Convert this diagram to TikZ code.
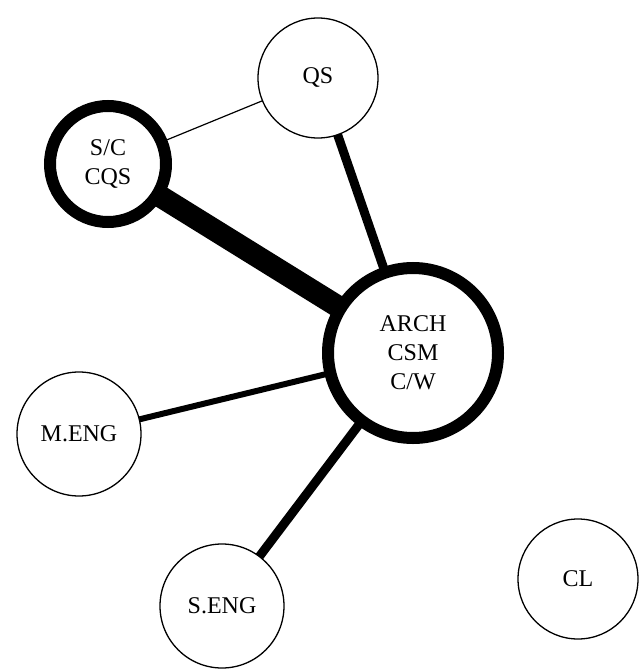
\documentclass[tikz,border=0pt]{standalone}
\usepackage{fontspec}
\setmainfont{Liberation Serif}
\usetikzlibrary{backgrounds}
\begin{document}
\begin{tikzpicture}[x=1pt,y=-1pt,
  unit/.style={circle, draw, fill=white, line width=1.3pt, inner sep=0pt,
    align=center, font=\fontsize{24}{29}\selectfont},
  core/.style={unit, line width=12pt},
  link/.style={line cap=butt}]
\useasboundingbox (0,0) rectangle (639,671);
% groups
\node[unit, minimum size=120pt] (qs)   at (318,78)  {QS};
\node[core, minimum size=116pt] (sc)   at (108,164) {S/C\\CQS};
\node[core, minimum size=170pt] (arch) at (413,353) {ARCH\\CSM\\C/W};
\node[unit, minimum size=124pt] (meng) at (79,434)  {M.ENG};
\node[unit, minimum size=124pt] (seng) at (222,606) {S.ENG};
\node[unit, minimum size=120pt] (cl)   at (578,579) {CL};
% links, weighted by strength
\begin{scope}[on background layer]
\draw[link, line width=1.2pt] (sc.center) -- (qs.center);
\draw[link, line width=9pt]   (qs.center) -- (arch.center);
\draw[link, line width=22pt]  (sc.center) -- (arch.center);
\draw[link, line width=6pt]   (meng.center) -- (arch.center);
\draw[link, line width=9pt]   (seng.center) -- (arch.center);
\end{scope}
\end{tikzpicture}
\end{document}
